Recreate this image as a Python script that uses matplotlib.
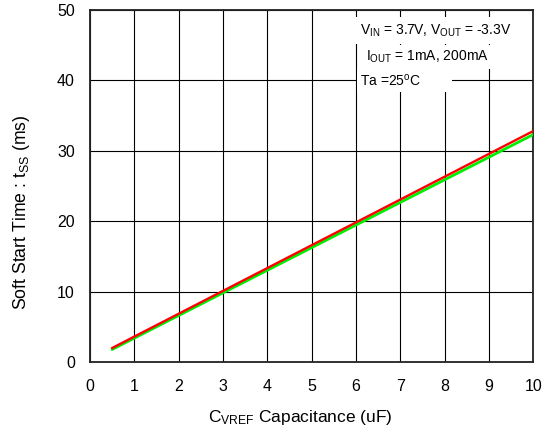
import matplotlib
matplotlib.use("Agg")

import matplotlib.pyplot as plt

plt.rcParams["font.family"] = ["Liberation Sans", "DejaVu Sans"]
plt.rcParams["mathtext.default"] = "regular"

# soft start time vs C_VREF, two load currents
cap_uf = [0.5, 10.0]
tss_1ma = [2.0, 32.8]      # red
tss_200ma = [1.8, 32.3]    # green

fig = plt.figure(figsize=(5.43, 4.32), dpi=100)
ax = fig.add_axes([0.166, 0.162, 0.816, 0.815])

ax.plot(cap_uf, tss_200ma, color="#00ee00", linewidth=2.0, zorder=3)
ax.plot(cap_uf, tss_1ma, color="#ff0000", linewidth=1.7, zorder=4)

ax.set_xlim(0, 10)
ax.set_ylim(0, 50)
ax.set_xticks(range(0, 11))
ax.set_yticks(range(0, 51, 10))
ax.tick_params(length=0, labelsize=11.5)
ax.tick_params(axis="x", pad=12)
ax.tick_params(axis="y", pad=11)
ax.grid(color="black", linewidth=0.8)
for s in ax.spines.values():
    s.set_linewidth(1.3)
    s.set_color("#222222")

xl = ax.set_xlabel("C$_{VREF}$ Capacitance (uF)", fontsize=12.5)
xl.set_va("center")
ax.xaxis.set_label_coords(0.474, -0.159)
yl = ax.set_ylabel("Soft Start Time : t$_{SS}$ (ms)", fontsize=12.7)
yl.set_va("center")
ax.yaxis.set_label_coords(-0.156, 0.424)

box = dict(facecolor="white", edgecolor="none", pad=2.5)
ax.text(6.09, 47.1, "V$_{IN}$ = 3.7V, V$_{OUT}$ = -3.3V", fontsize=10, va="center",
        bbox=dict(facecolor="white", edgecolor="none", pad=4), zorder=5)
ax.text(6.23, 43.3, "I$_{OUT}$ = 1mA, 200mA", fontsize=10, va="center", bbox=box, zorder=5)
ax.text(6.09, 40.0, "Ta =25$^{o}$C        ", fontsize=10, va="center", bbox=box, zorder=5)

fig.savefig("out.png", dpi=100)
plt.close(fig)
